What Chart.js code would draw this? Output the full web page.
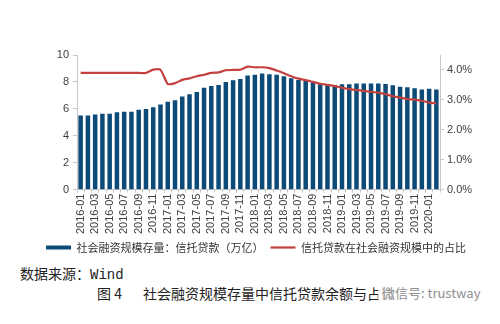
<!DOCTYPE html>
<html>
<head>
<meta charset="utf-8">
<script src="https://cdn.jsdelivr.net/npm/chart.js@4/dist/chart.umd.min.js"></script>
<style>
  html, body { margin: 0; padding: 0; background: #fff; }
  body { width: 500px; height: 324px; position: relative; overflow: hidden; }
  #chartBox { position: absolute; left: 0; top: 0; width: 500px; height: 263px; }
  .txt { position: absolute; font-size: 14px; color: #222; white-space: nowrap;
         font-family: "Noto Sans CJK SC", sans-serif; line-height: 20px; }
  .latin { font-family: "Liberation Mono", monospace; }
  .mark { position: absolute; left: 378px; top: 283px; font-size: 13px; color: #8f8f8f; line-height: 20px;
          padding-left: 4px; background: rgba(255,255,255,0.72);
          font-family: "Noto Sans CJK SC", sans-serif; white-space: nowrap; }
</style>
</head>
<body>
<div id="chartBox"><canvas id="chart"></canvas></div>
<div class="txt" style="left:20px; top:263px;">数据来源：<span class="latin">Wind</span></div>
<div class="txt" style="left:97px; top:283px;">图 4</div>
<div class="txt" style="left:143px; top:283px;">社会融资规模存量中信托贷款余额与占比</div>
<div class="mark">微信号: trustway</div>
<script>
// 月份 2016-01 .. 2020-02
const months = [
  '2016-01','2016-02','2016-03','2016-04','2016-05','2016-06','2016-07','2016-08','2016-09','2016-10','2016-11','2016-12',
  '2017-01','2017-02','2017-03','2017-04','2017-05','2017-06','2017-07','2017-08','2017-09','2017-10','2017-11','2017-12',
  '2018-01','2018-02','2018-03','2018-04','2018-05','2018-06','2018-07','2018-08','2018-09','2018-10','2018-11','2018-12',
  '2019-01','2019-02','2019-03','2019-04','2019-05','2019-06','2019-07','2019-08','2019-09','2019-10','2019-11','2019-12',
  '2020-01','2020-02'
];

// 社会融资规模存量：信托贷款（万亿）
const trustLoans = [
  5.50, 5.50, 5.58, 5.63, 5.63, 5.75, 5.78, 5.78, 5.93, 5.98, 6.12, 6.32,
  6.52, 6.64, 6.91, 7.09, 7.26, 7.56, 7.70, 7.78, 8.00, 8.12, 8.22, 8.47,
  8.54, 8.62, 8.57, 8.54, 8.42, 8.27, 8.15, 8.07, 7.98, 7.82, 7.80, 7.75,
  7.83, 7.83, 7.88, 7.88, 7.88, 7.88, 7.85, 7.75, 7.65, 7.60, 7.53, 7.43,
  7.50, 7.43
];

// 信托贷款在社会融资规模中的占比（%）
const trustShare = [
  3.90, 3.90, 3.90, 3.90, 3.90, 3.90, 3.90, 3.90, 3.90, 3.90, 4.01, 4.01,
  3.53, 3.56, 3.67, 3.72, 3.79, 3.84, 3.90, 3.92, 3.99, 4.00, 4.01, 4.11,
  4.09, 4.09, 4.06, 3.98, 3.89, 3.79, 3.71, 3.66, 3.60, 3.54, 3.50, 3.46,
  3.40, 3.36, 3.33, 3.30, 3.27, 3.24, 3.19, 3.12, 3.08, 3.03, 3.01, 2.97,
  2.91, 2.89
];

const leftTicks = { min: 0, max: 10, step: 2 };
const rightTicks = { min: 0, max: 4.5, step: 0.5 };

const barColor = '#0c4a78';
const lineColor = '#c4413f';
const axisColor = '#c8c8c8';
const textColor = '#404040';
const baseFont = '"Liberation Sans", Arial, sans-serif';

// 图例整体略偏右，与原图一致
const legendShift = {
  id: 'legendShift',
  afterLayout(chart) {
    if (chart.legend) {
      chart.legend.left += 6;
      chart.legend.right += 6;
    }
  }
};

new Chart(document.getElementById('chart'), {
  data: {
    labels: months,
    datasets: [
      {
        type: 'bar',
        label: '社会融资规模存量：信托贷款（万亿）',
        data: trustLoans,
        yAxisID: 'y',
        backgroundColor: barColor,
        borderWidth: 0,
        barPercentage: 0.62,
        categoryPercentage: 1,
        pointStyle: 'rect',
        order: 2
      },
      {
        type: 'line',
        label: '信托贷款在社会融资规模中的占比',
        data: trustShare,
        yAxisID: 'y1',
        borderColor: lineColor,
        backgroundColor: lineColor,
        borderWidth: 2.2,
        pointRadius: 0,
        pointStyle: 'line',
        tension: 0.2,
        order: 1
      }
    ]
  },
  plugins: [legendShift],
  options: {
    responsive: true,
    maintainAspectRatio: false,
    animation: false,
    layout: { padding: { top: 55, left: 0, right: 0, bottom: 0 } },
    plugins: {
      tooltip: { enabled: false },
      legend: {
        position: 'bottom',
        labels: {
          usePointStyle: true,
          pointStyleWidth: 25,
          boxWidth: 25,
          boxHeight: 4,
          padding: 7,
          color: '#333',
          font: { size: 11, family: '"Noto Sans CJK SC", sans-serif' },
          sort: function (a, b) { return a.datasetIndex - b.datasetIndex; }
        }
      }
    },
    scales: {
      x: {
        offset: true,
        grid: { display: true, drawOnChartArea: false, offset: true, color: axisColor, tickLength: 3 },
        border: { color: axisColor },
        ticks: {
          autoSkip: false,
          minRotation: 90,
          maxRotation: 90,
          padding: 1,
          color: textColor,
          font: { size: 11, family: baseFont },
          callback: function (v, i) { return i % 2 === 0 ? months[i] : ''; }
        }
      },
      y: {
        position: 'left',
        min: leftTicks.min,
        max: leftTicks.max,
        afterFit: function (s) { s.width = 77; },
        grid: { display: true, drawOnChartArea: false, color: axisColor, tickLength: 4 },
        border: { color: axisColor },
        ticks: {
          stepSize: leftTicks.step,
          padding: 4,
          color: textColor,
          font: { size: 11, family: baseFont }
        }
      },
      y1: {
        position: 'right',
        min: rightTicks.min,
        max: rightTicks.max,
        afterFit: function (s) { s.width = 60; },
        grid: { display: true, drawOnChartArea: false, color: axisColor, tickLength: 4 },
        border: { color: axisColor },
        ticks: {
          stepSize: rightTicks.step,
          padding: 3,
          color: textColor,
          font: { size: 11, family: baseFont },
          callback: function (v) { return v.toFixed(1) + '%'; }
        }
      }
    }
  }
});
</script>
</body>
</html>
